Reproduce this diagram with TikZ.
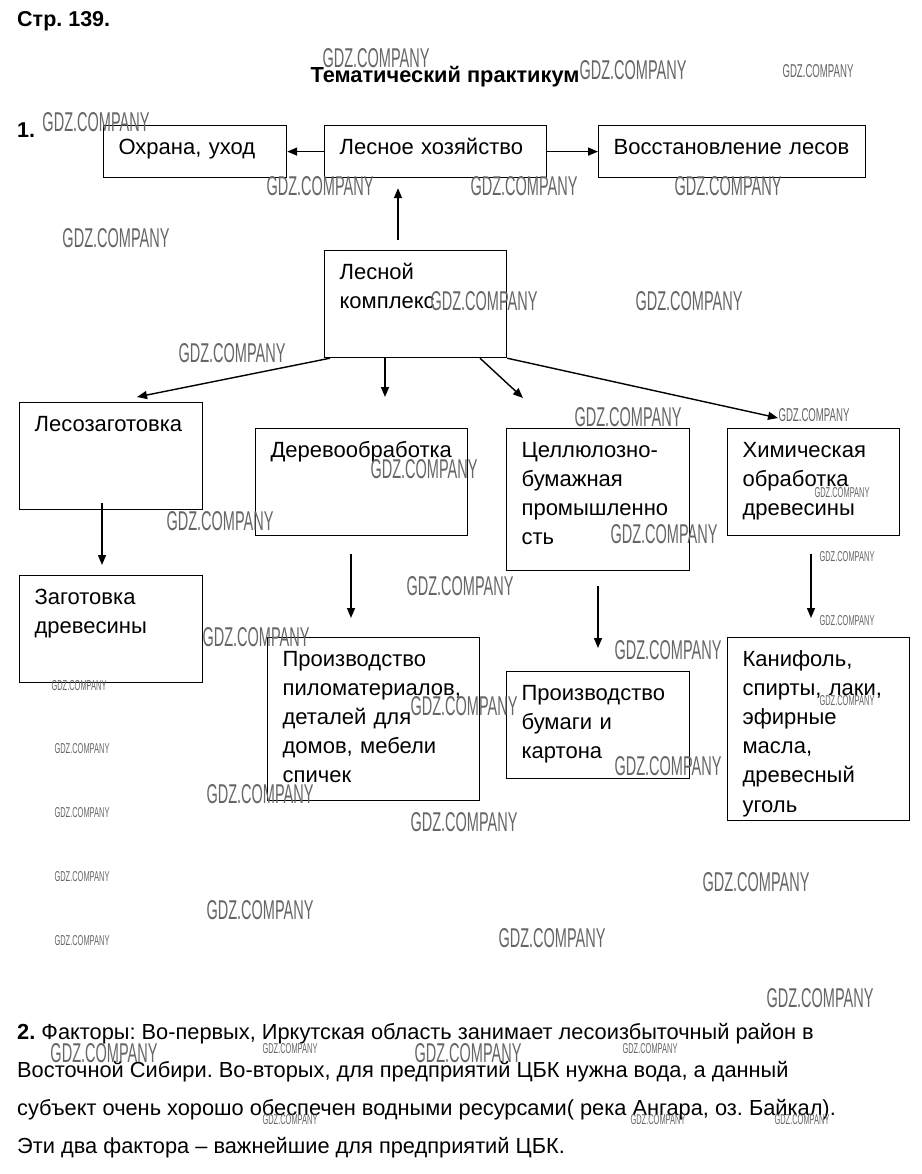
\documentclass[tikz,border=0pt]{standalone}
\usepackage{fontspec}
\setmainfont{Liberation Sans}
\newfontfamily\wmfont{Liberation Sans}
\usepackage{graphicx}
\usetikzlibrary{arrows.meta}
\frenchspacing
\newcommand\wmL{\resizebox{107pt}{19pt}{\wmfont GDZ.COMPANY}}
\newcommand\wmM{\resizebox{71pt}{13pt}{\wmfont GDZ.COMPANY}}
\newcommand\wmS{\resizebox{55pt}{10pt}{\wmfont GDZ.COMPANY}}
\tikzset{
  box/.style={draw, line width=1.2pt, anchor=north west, inner xsep=15pt, inner ysep=0pt,
    align=left, font=\fontsize{22}{29.2}\selectfont, text height=28.5pt},
  arr/.style={line width=1.4pt, -{Triangle[length=10pt,width=8pt]}},
  wm/.style={inner sep=0pt, text=black!60},
  head/.style={font=\bfseries\fontsize{21.5}{25}\selectfont, anchor=base west, inner sep=0pt},
  para/.style={font=\fontsize{21.8}{38}\selectfont, anchor=base west, inner sep=0pt},
}
\begin{document}
\begin{tikzpicture}[x=1pt,y=-1pt]
\useasboundingbox[fill=white] (0,0) rectangle (921,1174);
% headings
\node[head] (page) at (17,27) {Стр. 139.};
\node[head, anchor=base, font=\bfseries\fontsize{21.8}{25}\selectfont] (title) at (445,83) {Тематический практикум};
\node[head] (num1) at (17,138) {1.};
% boxes
\node[box, text width=153pt, text depth=23.5pt] (oh) at (103,125) {Охрана, уход};
\node[box, text width=192pt, text depth=23.5pt] (lh) at (324,125) {Лесное хозяйство};
\node[box, text width=237pt, text depth=23.5pt] (vl) at (598,125) {Восстановление лесов};
\node[box, text width=152pt, text depth=78.5pt] (kx) at (324,250) {Лесной\\комплекс};
\node[box, text width=153pt, text depth=78.5pt] (lz) at (19,402) {Лесозаготовка};
\node[box, text width=182pt, text depth=78.5pt] (do) at (255,428) {Деревообработка};
\node[box, text width=153pt, text depth=113.5pt] (cb) at (506,428) {Целлюлозно-\\бумажная\\промышленно\\сть};
\node[box, text width=142pt, text depth=78.5pt] (xo) at (727,428) {Химическая\\обработка\\древесины};
\node[box, text width=153pt, text depth=78.5pt] (zd) at (19,575) {Заготовка\\древесины};
\node[box, text width=182pt, text depth=134.5pt] (pp) at (267,637) {Производство\\пиломатериалов,\\деталей для\\домов, мебели\\спичек};
\node[box, text width=153pt, text depth=78.5pt] (pb) at (506,671) {Производство\\бумаги и\\картона};
\node[box, text width=152pt, text depth=154.5pt] (kn) at (727,637) {Канифоль,\\спирты, лаки,\\эфирные\\масла,\\древесный\\уголь};
% connectors
\draw[arr] (lh.west) -- (oh.east);
\draw[arr] (lh.east) -- (vl.west);
\draw[arr] ([shift={(74,-10)}]kx.north west) -- ([shift={(74,10)}]lh.south west);
\draw[arr] ([shift={(6,0)}]kx.south west) -- ([shift={(118,-5)}]lz.north west);
\draw[arr] ([shift={(61,0)}]kx.south west) -- ([shift={(130,-31)}]do.north west);
\draw[arr] ([shift={(156,0)}]kx.south west) -- ([shift={(17,-30)}]cb.north west);
\draw[arr] (kx.south east) -- ([shift={(51,-10)}]xo.north west);
\draw[arr] ([shift={(83,-7)}]lz.south west) -- ([shift={(83,-10)}]zd.north west);
\draw[arr] ([shift={(96,18)}]do.south west) -- ([shift={(84,-19)}]pp.north west);
\draw[arr] ([shift={(92,15)}]cb.south west) -- ([shift={(92,-23)}]pb.north west);
\draw[arr] ([shift={(84,18)}]xo.south west) -- ([shift={(84,-19)}]kn.north west);
% paragraph
\node[para] (p1) at (17,1039) {\textbf{2.} Факторы: Во-первых, Иркутская область занимает лесоизбыточный район в};
\node[para] (p2) at (17,1077) {Восточной Сибири. Во-вторых, для предприятий ЦБК нужна вода, а данный};
\node[para] (p3) at (17,1115) {субъект очень хорошо обеспечен водными ресурсами( река Ангара, оз. Байкал).};
\node[para] (p4) at (17,1153) {Эти два фактора – важнейшие для предприятий ЦБК.};
% watermarks
\node[wm] (w1) at (376,58) {\wmL};
\node[wm] (w2) at (633,70) {\wmL};
\node[wm] (w3) at (818,71) {\wmM};
\node[wm] (w4) at (96,122) {\wmL};
\node[wm] (w5) at (320,186) {\wmL};
\node[wm] (w6) at (524,186) {\wmL};
\node[wm] (w7) at (728,186) {\wmL};
\node[wm] (w8) at (116,238) {\wmL};
\node[wm] (w9) at (484,301) {\wmL};
\node[wm] (w10) at (689,301) {\wmL};
\node[wm] (w11) at (232,353) {\wmL};
\node[wm] (w12) at (628,417) {\wmL};
\node[wm] (w13) at (814,415) {\wmM};
\node[wm] (w14) at (424,469) {\wmL};
\node[wm] (w15) at (842,493) {\wmS};
\node[wm] (w16) at (220,521) {\wmL};
\node[wm] (w17) at (664,534) {\wmL};
\node[wm] (w18) at (847,557) {\wmS};
\node[wm] (w19) at (460,586) {\wmL};
\node[wm] (w20) at (847,621) {\wmS};
\node[wm] (w21) at (256,637) {\wmL};
\node[wm] (w22) at (668,650) {\wmL};
\node[wm] (w23) at (79,686) {\wmS};
\node[wm] (w24) at (464,706) {\wmL};
\node[wm] (w25) at (847,701) {\wmS};
\node[wm] (w26) at (82,749) {\wmS};
\node[wm] (w27) at (668,766) {\wmL};
\node[wm] (w28) at (260,794) {\wmL};
\node[wm] (w29) at (82,813) {\wmS};
\node[wm] (w30) at (464,822) {\wmL};
\node[wm] (w31) at (82,877) {\wmS};
\node[wm] (w32) at (756,882) {\wmL};
\node[wm] (w33) at (260,910) {\wmL};
\node[wm] (w34) at (82,941) {\wmS};
\node[wm] (w35) at (552,938) {\wmL};
\node[wm] (w36) at (820,998) {\wmL};
\node[wm] (w37) at (104,1053) {\wmL};
\node[wm] (w38) at (290,1049) {\wmS};
\node[wm] (w39) at (468,1053) {\wmL};
\node[wm] (w40) at (650,1049) {\wmS};
\node[wm] (w41) at (290,1120) {\wmS};
\node[wm] (w42) at (658,1120) {\wmS};
\node[wm] (w43) at (802,1120) {\wmS};
\end{tikzpicture}
\end{document}
